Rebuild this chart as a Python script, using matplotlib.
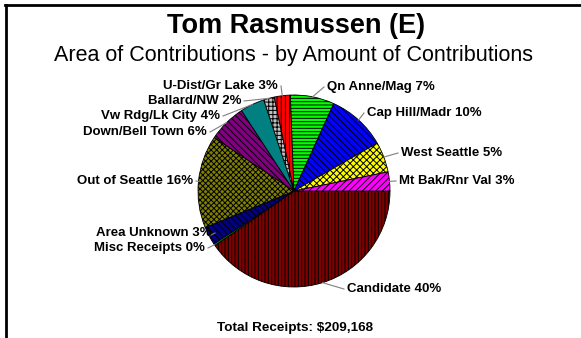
import matplotlib.pyplot as plt
import numpy as np
from matplotlib.lines import Line2D

plt.rcParams['font.family'] = ['Liberation Sans', 'DejaVu Sans']
plt.rcParams['hatch.linewidth'] = 0.7

# datos: porcentaje de contribuciones por area (sentido horario desde las 3)
areas = ['Candidate', 'Misc Receipts', 'Area Unknown', 'Out of Seattle',
         'Down/Bell Town', 'Vw Rdg/Lk City', 'Ballard/NW', 'U-Dist/Gr Lake',
         'Qn Anne/Mag', 'Cap Hill/Madr', 'West Seattle', 'Mt Bak/Rnr Val']
pct = [40.4, 0.3, 3.1, 15.6, 6.4, 4.1, 1.8, 2.7, 7.4, 9.9, 5.1, 3.2]
total_receipts = '$209,168'

colores = ['#800000', '#00a000', '#000080', '#808000', '#800080', '#008080',
           '#c0c0c0', '#ff0000', '#00ff00', '#0000ff', '#ffff00', '#ff00ff']
tramas = ['|||||', '', '\\\\\\\\\\', 'xxxxxx', '\\\\\\\\\\', '', '++++', '||||',
          '-----', '\\\\\\\\\\', 'xxxxx', '/////']

# posiciones de las etiquetas en pixeles (x, y desde arriba, alineacion)
pos_etiquetas = [(347, 289, 'left'), (205, 248, 'right'), (212, 233, 'right'),
                 (193, 181, 'right'), (207, 132, 'right'), (220, 116, 'right'),
                 (241, 101, 'right'), (278, 86, 'right'), (327, 87, 'left'),
                 (367, 113, 'left'), (401, 153, 'left'), (399, 181, 'left')]

W, H = 581, 338
fig = plt.figure(figsize=(W / 100, H / 100), dpi=100)
ax = fig.add_axes([0, 0, 1, 1])

cx, cy, r = 294, H - 191, 96
wedges, _ = ax.pie(pct, colors=colores, startangle=0, counterclock=False,
                   center=(cx, cy), radius=r, frame=False,
                   wedgeprops=dict(edgecolor='black', linewidth=0.6))
for w, t in zip(wedges, tramas):
    w.set_hatch(t)

ax.set_xlim(0, W)
ax.set_ylim(0, H)
ax.axis('off')

for w, nombre, p, (lx, ly, ha) in zip(wedges, areas, pct, pos_etiquetas):
    ang = np.deg2rad((w.theta1 + w.theta2) / 2)
    ex, ey = cx + r * np.cos(ang), cy + r * np.sin(ang)
    ty = H - ly
    gap = 3 if ha == 'right' else -3
    ax.plot([ex, lx + gap], [ey, ty], color='#808080', lw=0.8)
    ax.text(lx, ty, f'{nombre} {round(p)}%', ha=ha, va='center',
            fontsize=9.5, fontweight='bold')

fig.text(296 / W, 1 - 26 / H, 'Tom Rasmussen (E)', ha='center', va='center',
         fontsize=19.5, fontweight='bold')
fig.text(293 / W, 1 - 55 / H, 'Area of Contributions - by Amount of Contributions',
         ha='center', va='center', fontsize=15.5)
fig.text(295 / W, 1 - 328 / H, f'Total Receipts: {total_receipts}', ha='center',
         va='center', fontsize=9.7, fontweight='bold')

# marco
fig.add_artist(Line2D([5 / W, 1], [1 - 5 / H, 1 - 5 / H], color='black', lw=2))
fig.add_artist(Line2D([6 / W, 6 / W], [0, 1 - 5 / H], color='black', lw=2))

plt.savefig('out.png', dpi=100)
